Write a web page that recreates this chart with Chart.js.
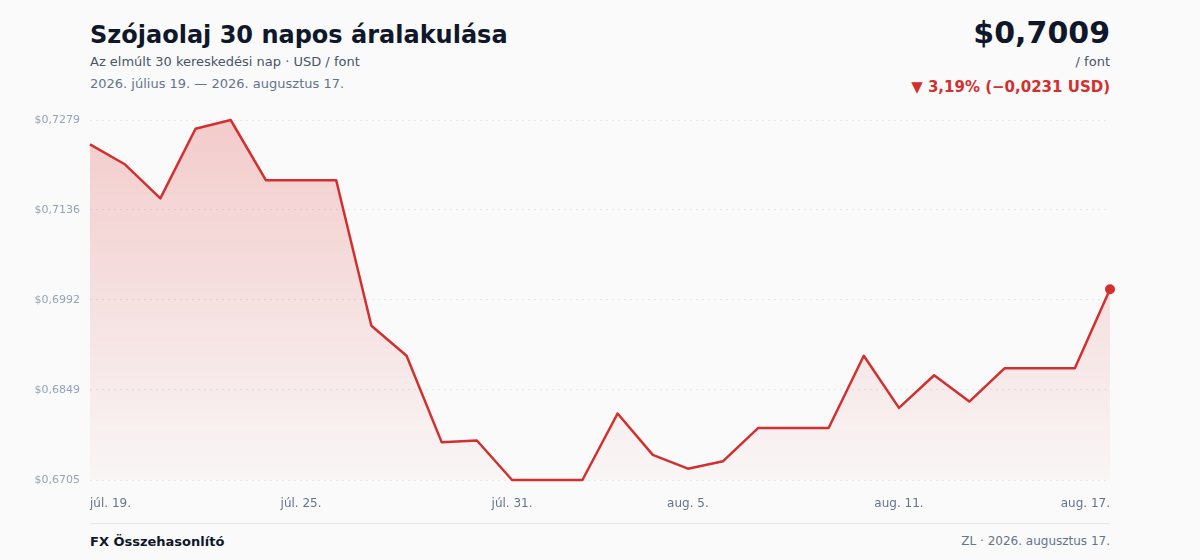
<!DOCTYPE html>
<html lang="hu">
<head>
<meta charset="utf-8">
<title>Szójaolaj 30 napos áralakulása</title>
<script src="https://cdn.jsdelivr.net/npm/chart.js@4.4.1/dist/chart.umd.min.js"></script>
<style>
  html, body { margin: 0; padding: 0; background: #fafafa; }
  body { width: 1200px; height: 560px; position: relative; overflow: hidden; font-family: "DejaVu Sans", sans-serif; }
  .title { position: absolute; left: 90px; top: 21px; font-size: 24px; font-weight: bold; color: #0f172a; }
  .sub { position: absolute; left: 90px; top: 54px; font-size: 13px; color: #475569; }
  .range { position: absolute; left: 90px; top: 76px; font-size: 13px; color: #64748b; }
  .price { position: absolute; right: 90px; top: 15px; font-size: 30px; font-weight: bold; color: #0f172a; }
  .unit { position: absolute; right: 90px; top: 54px; font-size: 13px; color: #475569; }
  .change { position: absolute; right: 90px; top: 78px; font-size: 15px; font-weight: bold; color: #d32f2f; }
  .chartbox { position: absolute; left: 0; top: 100px; width: 1200px; height: 420px; }
  .rule { position: absolute; left: 90px; top: 523px; width: 1020px; height: 1px; background: #e5e7eb; }
  .brand { position: absolute; left: 90px; top: 534px; font-size: 13px; font-weight: bold; color: #0f172a; }
  .src { position: absolute; right: 90px; top: 534px; font-size: 12px; color: #64748b; }
</style>
</head>
<body>
<div class="title">Szójaolaj 30 napos áralakulása</div>
<div class="sub">Az elmúlt 30 kereskedési nap · USD / font</div>
<div class="range">2026. július 19. — 2026. augusztus 17.</div>
<div class="price">$0,7009</div>
<div class="unit">/ font</div>
<div class="change">▼ 3,19% (−0,0231 USD)</div>
<div class="chartbox"><canvas id="priceChart"></canvas></div>
<div class="rule"></div>
<div class="brand">FX Összehasonlító</div>
<div class="src">ZL · 2026. augusztus 17.</div>

<script>
// napi dátumok (30 kereskedési nap)
const days = [
  'júl. 19.', 'júl. 20.', 'júl. 21.', 'júl. 22.', 'júl. 23.', 'júl. 24.',
  'júl. 25.', 'júl. 26.', 'júl. 27.', 'júl. 28.', 'júl. 29.', 'júl. 30.',
  'júl. 31.', 'aug. 1.', 'aug. 2.', 'aug. 3.', 'aug. 4.', 'aug. 5.',
  'aug. 6.', 'aug. 7.', 'aug. 8.', 'aug. 9.', 'aug. 10.', 'aug. 11.',
  'aug. 12.', 'aug. 13.', 'aug. 14.', 'aug. 15.', 'aug. 16.', 'aug. 17.'
];

// USD / font
const prices = [
  0.7240, 0.7208, 0.7154, 0.7265, 0.7279, 0.7183,
  0.7183, 0.7183, 0.6951, 0.6903, 0.6765, 0.6768,
  0.6705, 0.6705, 0.6705, 0.6811, 0.6745, 0.6723,
  0.6735, 0.6788, 0.6788, 0.6788, 0.6903, 0.6820,
  0.6872, 0.6830, 0.6883, 0.6883, 0.6883, 0.7009
];

const xTickLabels = ['júl. 19.', 'júl. 25.', 'júl. 31.', 'aug. 5.', 'aug. 11.', 'aug. 17.'];
const yTickValues = [0.6705, 0.6849, 0.6992, 0.7136, 0.7279];
const yTickLabels = ['$0,6705', '$0,6849', '$0,6992', '$0,7136', '$0,7279'];

const lineColor = '#d32f2f';

const ctx = document.getElementById('priceChart').getContext('2d');

new Chart(ctx, {
  type: 'line',
  data: {
    labels: days,
    datasets: [{
      data: prices,
      borderColor: lineColor,
      borderWidth: 2.5,
      borderJoinStyle: 'round',
      tension: 0,
      clip: false,
      fill: 'start',
      backgroundColor: function (context) {
        const area = context.chart.chartArea;
        if (!area) return 'rgba(211,47,47,0.12)';
        const g = context.chart.ctx.createLinearGradient(0, area.top, 0, area.bottom);
        g.addColorStop(0, 'rgba(220,38,38,0.22)');
        g.addColorStop(1, 'rgba(220,38,38,0.02)');
        return g;
      },
      // csak az utolsó pont látszik
      pointRadius: ctx => ctx.dataIndex === prices.length - 1 ? 5 : 0,
      pointBackgroundColor: lineColor,
      pointBorderWidth: 0,
      pointHoverRadius: 0
    }]
  },
  options: {
    responsive: true,
    maintainAspectRatio: false,
    animation: false,
    layout: { padding: { top: 20, right: 90, left: 0, bottom: 0 } },
    plugins: {
      legend: { display: false },
      tooltip: { enabled: false }
    },
    scales: {
      x: {
        grid: { display: false, drawTicks: false },
        border: { display: false },
        afterFit: scale => { scale.height = 40; },
        ticks: {
          autoSkip: false,
          maxRotation: 0,
          align: 'inner',
          padding: 17,
          color: '#64748b',
          font: { family: 'DejaVu Sans', size: 12 },
          callback: function (value) {
            const lbl = this.getLabelForValue(value);
            return xTickLabels.includes(lbl) ? lbl : '';
          }
        }
      },
      y: {
        min: yTickValues[0],
        max: yTickValues[yTickValues.length - 1],
        afterFit: scale => { scale.width = 90; },
        afterBuildTicks: scale => {
          scale.ticks = yTickValues.map(v => ({ value: v }));
        },
        grid: {
          color: '#e5e7eb',
          drawTicks: false,
          lineWidth: 1
        },
        border: { display: false, dash: [2, 4] },
        ticks: {
          padding: 10,
          color: '#94a3b8',
          font: { family: 'DejaVu Sans', size: 11 },
          callback: (value, i) => yTickLabels[i]
        }
      }
    }
  }
});
</script>
</body>
</html>
